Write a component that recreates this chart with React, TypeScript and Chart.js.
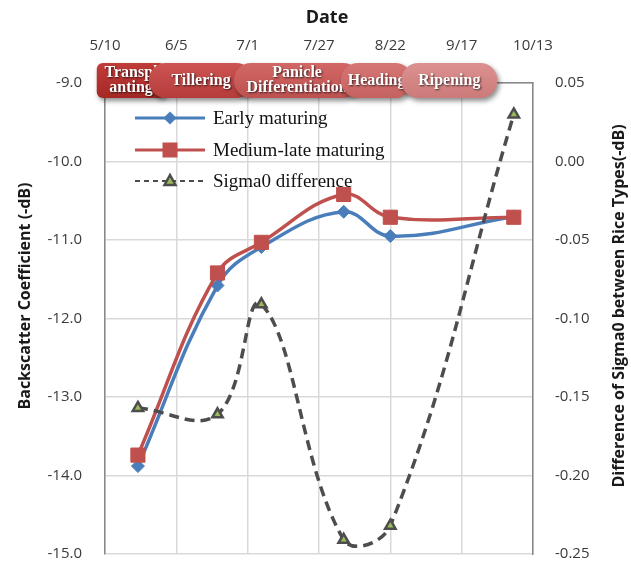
import React, { useEffect, useRef } from "react";
import { Chart, registerables } from "chart.js";

Chart.register(...registerables);

// ---- data ----
const dateTicks = ["5/10", "6/5", "7/1", "7/27", "8/22", "9/17", "10/13"];
const obsDates = ["5/22", "6/20", "7/6", "8/5", "8/22", "10/6"];
const earlyMaturing = [-13.88, -11.58, -11.09, -10.64, -10.95, -10.7];
const mediumLateMaturing = [-13.74, -11.42, -11.03, -10.42, -10.71, -10.71];
const sigmaDifference = [-0.157, -0.161, -0.091, -0.241, -0.232, 0.03];
const seriesNames = ["Early maturing", "Medium-late maturing", "Sigma0 difference"];

const phaseLabels = [["Transpl", "anting"], ["Tillering"], ["Panicle", "Differentiation"], ["Heading"], ["Ripening"]];
const phaseStart = ["5/7", "5/26", "6/26", "8/4", "8/26"];
const phaseEnd = ["6/1", "7/3", "8/11", "8/30", "9/30"];

const leftMin = -15, leftMax = -9, leftStep = 1;
const rightMin = -0.25, rightMax = 0.05, rightStep = 0.05;

const xTitle = "Date";
const leftTitle = "Backscatter Coefficient (-dB)";
const rightTitle = "Difference of Sigma0 between Rice Types(-dB)";

// ---- helpers ----
const monthStart: Record<number, number> = { 5: 0, 6: 31, 7: 61, 8: 92, 9: 123, 10: 153 };
function dayOffset(s: string): number {
  const [m, d] = s.split("/").map(Number);
  return monthStart[m] + d - 10;
}

const SANS = "'Open Sans', 'DejaVu Sans', sans-serif";
const SERIF = "'Liberation Serif', 'Times New Roman', serif";
const BLUE = "#4a7ebb";
const RED = "#c0504d";
const DASH = "#4d4d4d";
const GREEN = "#9bbb59";
const phaseColors = [
  ["#c03c38", "#a52826"],
  ["#cc5452", "#b53c3a"],
  ["#d26866", "#bd5150"],
  ["#d67674", "#c46260"],
  ["#dc9190", "#cb7a79"],
];
const phaseRadius = [6, 17, 17, 17, 17];

function roundRectPath(ctx: CanvasRenderingContext2D, x: number, y: number, w: number, h: number, r: number) {
  const rr = Math.min(r, h / 2, w / 2);
  ctx.beginPath();
  ctx.moveTo(x + rr, y);
  ctx.lineTo(x + w - rr, y);
  ctx.arcTo(x + w, y, x + w, y + rr, rr);
  ctx.lineTo(x + w, y + h - rr);
  ctx.arcTo(x + w, y + h, x + w - rr, y + h, rr);
  ctx.lineTo(x + rr, y + h);
  ctx.arcTo(x, y + h, x, y + h - rr, rr);
  ctx.lineTo(x, y + rr);
  ctx.arcTo(x, y, x + rr, y, rr);
  ctx.closePath();
}

function drawMarker(ctx: CanvasRenderingContext2D, kind: string, x: number, y: number) {
  ctx.save();
  ctx.setLineDash([]);
  if (kind === "diamond") {
    ctx.fillStyle = BLUE;
    ctx.beginPath();
    ctx.moveTo(x, y - 6.5);
    ctx.lineTo(x + 6.5, y);
    ctx.lineTo(x, y + 6.5);
    ctx.lineTo(x - 6.5, y);
    ctx.closePath();
    ctx.fill();
  } else if (kind === "square") {
    ctx.fillStyle = RED;
    ctx.fillRect(x - 7.5, y - 7.5, 15, 15);
  } else {
    ctx.fillStyle = GREEN;
    ctx.strokeStyle = DASH;
    ctx.lineWidth = 2.5;
    ctx.beginPath();
    ctx.moveTo(x, y - 6);
    ctx.lineTo(x + 5.5, y + 4);
    ctx.lineTo(x - 5.5, y + 4);
    ctx.closePath();
    ctx.fill();
    ctx.stroke();
  }
  ctx.restore();
}

const overlayPlugin = {
  id: "overlay",
  afterDraw(chart: any) {
    const ctx: CanvasRenderingContext2D = chart.ctx;
    const area = chart.chartArea;
    const xs = chart.scales.x;

    // axis titles
    ctx.save();
    ctx.fillStyle = "#1a1a1a";
    ctx.font = `bold 18px ${SANS}`;
    ctx.textAlign = "center";
    ctx.textBaseline = "middle";
    ctx.fillText(xTitle, 327, 18);
    ctx.font = `bold 16px ${SANS}`;
    ctx.save();
    ctx.translate(25, 296);
    ctx.rotate(-Math.PI / 2);
    ctx.fillText(leftTitle, 0, 0);
    ctx.restore();
    ctx.save();
    ctx.translate(619, 306);
    ctx.rotate(-Math.PI / 2);
    ctx.fillText(rightTitle, 0, 0);
    ctx.restore();
    ctx.restore();

    // legend
    const kinds = ["diamond", "square", "triangle"];
    const colors = [BLUE, RED, DASH];
    const rowY = [area.top + 35, area.top + 67, area.top + 98];
    const lx0 = area.left + 30, lx1 = area.left + 100, tx = area.left + 108;
    for (let i = 0; i < 3; i++) {
      ctx.save();
      ctx.strokeStyle = colors[i];
      ctx.lineWidth = i === 2 ? 2 : 3;
      ctx.setLineDash(i === 2 ? [5, 4] : []);
      ctx.beginPath();
      ctx.moveTo(lx0, rowY[i]);
      ctx.lineTo(lx1, rowY[i]);
      ctx.stroke();
      ctx.restore();
      drawMarker(ctx, kinds[i], (lx0 + lx1) / 2, rowY[i]);
      ctx.save();
      ctx.fillStyle = "#111";
      ctx.font = `19px ${SERIF}`;
      ctx.textAlign = "left";
      ctx.textBaseline = "middle";
      ctx.fillText(seriesNames[i], tx, rowY[i] + 1);
      ctx.restore();
    }

    // phase banners
    const y0 = area.top - 20;
    const h = 35;
    for (let i = 0; i < phaseLabels.length; i++) {
      const x0 = xs.getPixelForValue(dayOffset(phaseStart[i]));
      const x1 = xs.getPixelForValue(dayOffset(phaseEnd[i]));
      ctx.save();
      const g = ctx.createLinearGradient(0, y0, 0, y0 + h);
      g.addColorStop(0, phaseColors[i][0]);
      g.addColorStop(1, phaseColors[i][1]);
      ctx.shadowColor = "rgba(0,0,0,0.45)";
      ctx.shadowBlur = 5;
      ctx.shadowOffsetX = 2;
      ctx.shadowOffsetY = 3;
      roundRectPath(ctx, x0, y0, x1 - x0, h, phaseRadius[i]);
      ctx.fillStyle = g;
      ctx.fill();
      ctx.restore();

      ctx.save();
      ctx.font = `bold 16px ${SERIF}`;
      ctx.fillStyle = "#ffffff";
      ctx.textAlign = "center";
      ctx.textBaseline = "middle";
      ctx.shadowColor = "rgba(0,0,0,0.7)";
      ctx.shadowBlur = 2;
      ctx.shadowOffsetX = 1;
      ctx.shadowOffsetY = 1;
      const lines = phaseLabels[i];
      const cx = (x0 + x1) / 2;
      const cy = y0 + h / 2;
      const lh = 15.5;
      lines.forEach((t, k) => {
        ctx.fillText(t, cx, cy + (k - (lines.length - 1) / 2) * lh);
      });
      ctx.restore();
    }
  },
};

function fmt(v: any, d: number) {
  const n = Number(v);
  return (Math.abs(n) < 1e-9 ? 0 : n).toFixed(d);
}

export default function App() {
  const ref = useRef<HTMLCanvasElement | null>(null);
  useEffect(() => {
    if (!ref.current) return;
    const xs = obsDates.map(dayOffset);
    const chart = new Chart(ref.current, {
      type: "line",
      data: {
        datasets: [
          {
            label: seriesNames[2],
            data: xs.map((x, i) => ({ x, y: sigmaDifference[i] })),
            yAxisID: "y2",
            borderColor: DASH,
            borderWidth: 3.5,
            borderDash: [10, 6],
            tension: 0.4,
            pointStyle: "triangle",
            pointRadius: 6,
            pointBorderWidth: 2.5,
            pointBackgroundColor: GREEN,
            pointBorderColor: DASH,
            order: 0,
          },
          {
            label: seriesNames[1],
            data: xs.map((x, i) => ({ x, y: mediumLateMaturing[i] })),
            yAxisID: "y",
            borderColor: RED,
            borderWidth: 3.5,
            tension: 0.4,
            pointStyle: "rect",
            pointRadius: 10,
            pointBorderWidth: 1,
            pointBackgroundColor: RED,
            pointBorderColor: RED,
            order: 1,
          },
          {
            label: seriesNames[0],
            data: xs.map((x, i) => ({ x, y: earlyMaturing[i] })),
            yAxisID: "y",
            borderColor: BLUE,
            borderWidth: 3.5,
            tension: 0.4,
            pointStyle: "rectRot",
            pointRadius: 6.5,
            pointBorderWidth: 1,
            pointBackgroundColor: BLUE,
            pointBorderColor: BLUE,
            order: 2,
          },
        ],
      },
      options: {
        responsive: false,
        animation: false,
        layout: { padding: { left: 0, right: 0, top: 0, bottom: 9 } },
        plugins: { legend: { display: false }, tooltip: { enabled: false }, title: { display: false } },
        scales: {
          x: {
            type: "linear",
            position: "top",
            min: dayOffset(dateTicks[0]),
            max: dayOffset(dateTicks[dateTicks.length - 1]),
            afterBuildTicks: (s: any) => {
              s.ticks = dateTicks.map((t) => ({ value: dayOffset(t) }));
            },
            afterFit: (s: any) => {
              s.height = 83;
              s.paddingLeft = 0;
              s.paddingRight = 0;
            },
            ticks: {
              callback: (v: any) => {
                const i = dateTicks.findIndex((t) => dayOffset(t) === v);
                return i >= 0 ? dateTicks[i] : "";
              },
              font: { family: SANS, size: 15 },
              color: "#3a3a3a",
              padding: 28,
              maxRotation: 0,
              autoSkip: false,
            },
            grid: { color: "#d9d9d9", lineWidth: 1.5, drawTicks: false },
            border: { color: "#888888", width: 1.5 },
          },
          y: {
            type: "linear",
            position: "left",
            min: leftMin,
            max: leftMax,
            ticks: {
              stepSize: leftStep,
              callback: (v: any) => fmt(v, 1),
              font: { family: SANS, size: 15 },
              color: "#3a3a3a",
              padding: 23,
            },
            afterFit: (s: any) => {
              s.width = 105;
              s.paddingTop = 0;
              s.paddingBottom = 0;
            },
            grid: { color: "#d9d9d9", lineWidth: 1.5, drawTicks: false },
            border: { color: "#888888", width: 1.5 },
          },
          y2: {
            type: "linear",
            position: "right",
            min: rightMin,
            max: rightMax,
            ticks: {
              stepSize: rightStep,
              callback: (v: any) => fmt(v, 2),
              font: { family: SANS, size: 15 },
              color: "#3a3a3a",
              padding: 22,
            },
            afterFit: (s: any) => {
              s.width = 98;
              s.paddingTop = 0;
              s.paddingBottom = 0;
            },
            grid: { drawOnChartArea: false, drawTicks: false },
            border: { color: "#888888", width: 1.5 },
          },
        },
      },
      plugins: [overlayPlugin],
    } as any);
    return () => chart.destroy();
  }, []);
  return (
    <div style={{ position: "absolute", left: 0, top: 0, width: 631, height: 565, background: "#fff" }}>
      <canvas ref={ref} width={631} height={565} />
    </div>
  );
}
